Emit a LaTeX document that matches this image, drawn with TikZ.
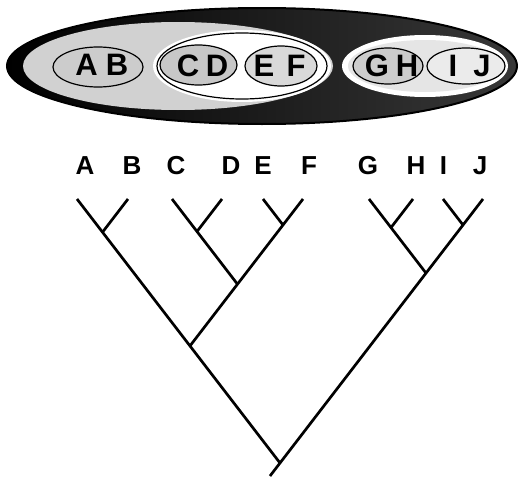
\documentclass[tikz,border=0pt]{standalone}
\usepackage{fontspec}
\setmainfont{Liberation Sans}
\begin{document}
\begin{tikzpicture}[x=1pt,y=-1pt,
  branch/.style={line width=2.7pt},
  toplbl/.style={font=\fontsize{31}{31}\selectfont\bfseries, inner sep=0pt},
  taxon/.style={font=\fontsize{26}{26}\selectfont\bfseries, inner sep=0pt},
  clade/.style={draw=black, line width=1.2pt}]
\useasboundingbox (0,0) rectangle (520,479);
\fill[white] (0,0) rectangle (520,479);
% ---- nested clade ellipses ----
\shade[left color=black, right color=black!78] (262,66) ellipse [x radius=255pt, y radius=58pt];
\draw[line width=2pt] (262,66) ellipse [x radius=255pt, y radius=58pt];
\fill[black!18] (178,66) ellipse [x radius=155pt, y radius=44pt];
% AB
\draw[clade, fill=black!20] (98,67) ellipse [x radius=45pt, y radius=20pt];
% CDEF
\fill[white] (242,66) ellipse [x radius=89pt, y radius=36pt];
\draw[clade, fill=white] (242,66) ellipse [x radius=85pt, y radius=33pt];
\draw[clade, fill=black!22] (198.5,65) ellipse [x radius=38.5pt, y radius=20pt];
\draw[clade, fill=black!15] (281,66) ellipse [x radius=36pt, y radius=20pt];
% GHIJ
\fill[white] (425,66) ellipse [x radius=83pt, y radius=31pt];
\fill[black!10] (425,66) ellipse [x radius=77pt, y radius=26pt];
\draw[clade, fill=black!20] (388,66) ellipse [x radius=35pt, y radius=18pt];
\draw[clade, fill=black!8] (466,66) ellipse [x radius=39pt, y radius=18pt];
% letters in ellipses
\node[toplbl] (tA) at (86.5,65) {A};
\node[toplbl] (tB) at (117,65) {B};
\node[toplbl] (tC) at (188,66) {C};
\node[toplbl] (tD) at (217,66) {D};
\node[toplbl] (tE) at (264,66) {E};
\node[toplbl] (tF) at (296,66) {F};
\node[toplbl] (tG) at (377,66) {G};
\node[toplbl] (tH) at (407,66) {H};
\node[toplbl] (tI) at (453,66) {I};
\node[toplbl] (tJ) at (482,66) {J};
% ---- taxon labels ----
\node[taxon] (lA) at (85,166) {A};
\node[taxon] (lB) at (132,166) {B};
\node[taxon] (lC) at (176,166) {C};
\node[taxon] (lD) at (231,166) {D};
\node[taxon] (lE) at (263,166) {E};
\node[taxon] (lF) at (309,166) {F};
\node[taxon] (lG) at (368,166) {G};
\node[taxon] (lH) at (416,166) {H};
\node[taxon] (lI) at (443.5,166) {I};
\node[taxon] (lJ) at (480,166) {J};
% ---- tree ----
\coordinate (A) at (77,199);
\coordinate (B) at (128,199);
\coordinate (C) at (172,199);
\coordinate (D) at (222,199);
\coordinate (E) at (263,199);
\coordinate (F) at (303,199);
\coordinate (G) at (369,199);
\coordinate (H) at (413,199);
\coordinate (I) at (443,199);
\coordinate (J) at (483,199);
\coordinate (ab) at (102.5,232.2);
\coordinate (cd) at (197,231.5);
\coordinate (ef) at (283,225);
\coordinate (cdef) at (237.5,284.2);
\coordinate (abcdef) at (190,345.9);
\coordinate (gh) at (391,227.6);
\coordinate (ij) at (463,225);
\coordinate (ghij) at (426,273.1);
\coordinate (root) at (280,463);
\coordinate (rootend) at (270,476);
\draw[branch] (A) -- (root);
\draw[branch] (B) -- (ab);
\draw[branch] (C) -- (cdef);
\draw[branch] (D) -- (cd);
\draw[branch] (E) -- (ef);
\draw[branch] (F) -- (abcdef);
\draw[branch] (G) -- (ghij);
\draw[branch] (H) -- (gh);
\draw[branch] (I) -- (ij);
\draw[branch] (J) -- (rootend);
\end{tikzpicture}
\end{document}
